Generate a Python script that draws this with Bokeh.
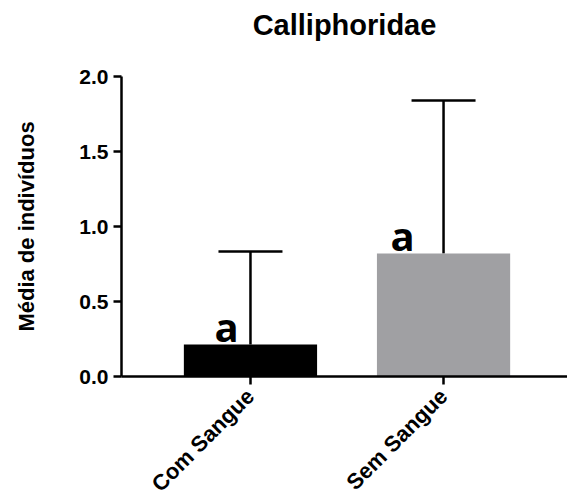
import numpy as np
from bokeh.plotting import figure
from bokeh.models import (ColumnDataSource, Range1d, FixedTicker, Whisker, TeeHead,
                          CustomJSTickFormatter, Title)
from bokeh.core.properties import value
from bokeh.embed import file_html
from bokeh.resources import INLINE

# ---- data ----
title_text = "Calliphoridae"
y_label = "Média de indivíduos"
categories = ["Com Sangue", "Sem Sangue"]
means = [0.213, 0.82]
upper = [0.833, 1.84]
letters = ["a", "a"]
bar_colors = ["#000000", "#a0a0a3"]
y_ticks = [0.0, 0.5, 1.0, 1.5, 2.0]

# styling: horizontal pixel nudges of the significance letters
letter_dx = [-24, -41]

xpos = list(range(len(categories)))
src = ColumnDataSource(dict(x=xpos, mean=means, upper=upper, color=bar_colors,
                            letter=letters, dx=letter_dx))

p = figure(frame_width=446, frame_height=300, output_backend="svg",
           toolbar_location=None, title=None,
           x_range=Range1d(-0.668, 1.642), y_range=Range1d(0, 2.0),
           min_border_left=121, min_border_right=0, min_border_top=76,
           min_border_bottom=112)

# spacer panel (closest to the frame), then the real title above it
p.add_layout(Title(text=" ", text_font_size="20px", standoff=12), "above")
p.add_layout(Title(text=title_text, align="center", text_font="Liberation Sans",
                   text_font_size="29px", text_font_style="bold", text_color="black",
                   offset=0, standoff=0), "above")

p.vbar(x="x", top="mean", bottom=0, width=0.69, fill_color="color",
       line_color=None, source=src)

w = Whisker(base="x", lower="mean", upper="upper", source=src, dimension="height",
            line_color="black", line_width=2.5, lower_head=None,
            upper_head=TeeHead(size=64, line_color="black", line_width=2.5))
p.add_layout(w)

p.text(x="x", y="mean", text="letter", x_offset="dx", y_offset=9, source=src,
       text_font=value("Open Sans"), text_font_style="bold", text_font_size="40px",
       text_align="center", text_baseline="bottom", text_color="black")

# axes
p.grid.visible = False
p.outline_line_color = None
p.background_fill_color = "white"
p.border_fill_color = "white"

for ax in (p.xaxis[0], p.yaxis[0]):
    ax.axis_line_width = 2.5
    ax.axis_line_color = "black"
    ax.major_tick_line_width = 2.5
    ax.major_tick_line_color = "black"
    ax.major_tick_in = 0
    ax.major_tick_out = 8
    ax.minor_tick_line_color = None
    ax.major_label_text_font = "Liberation Sans"
    ax.major_label_text_font_style = "bold"
    ax.major_label_text_color = "black"

p.yaxis.ticker = FixedTicker(ticks=y_ticks)
p.yaxis.formatter = CustomJSTickFormatter(code="return tick.toFixed(1);")
p.yaxis.major_label_text_font_size = "21px"
p.yaxis.major_label_standoff = 5
p.yaxis.axis_label = y_label
p.yaxis.axis_label_text_font = "Liberation Sans"
p.yaxis.axis_label_text_font_style = "bold"
p.yaxis.axis_label_text_font_size = "22px"
p.yaxis.axis_label_text_color = "black"
p.yaxis.axis_label_standoff = 37

p.xaxis.ticker = FixedTicker(ticks=xpos)
p.xaxis.major_label_overrides = {i: c for i, c in zip(xpos, categories)}
p.xaxis.major_label_orientation = np.pi / 4
p.xaxis.major_label_text_font_size = "22px"
p.xaxis.major_label_standoff = 8

open("out.html", "w").write(file_html(p, INLINE))
